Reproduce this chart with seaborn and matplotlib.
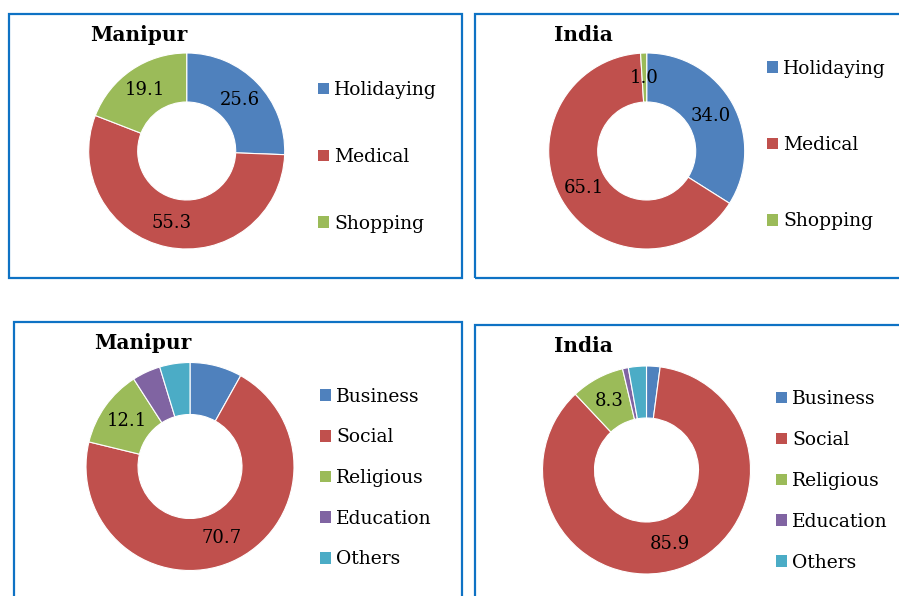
import numpy as np
import matplotlib
matplotlib.use("Agg")
import matplotlib.pyplot as plt
from matplotlib.patches import Rectangle
import seaborn as sns

# ---- data ----
purpose_labels = ["Holidaying", "Medical", "Shopping"]
manipur_purpose = [25.6, 55.3, 19.1]
india_purpose = [34.0, 65.1, 1.0]

visit_labels = ["Business", "Social", "Religious", "Education", "Others"]
manipur_visit = [8.1, 70.7, 12.1, 4.4, 4.7]
india_visit = [2.1, 85.9, 8.3, 0.9, 2.8]

# which slice values are annotated
manipur_purpose_show = [True, True, True]
india_purpose_show = [True, True, True]
manipur_visit_show = [False, True, True, False, False]
india_visit_show = [False, True, True, False, False]

titles = ["Manipur", "India", "Manipur", "India"]

sns.set_theme(style="white")
palette = sns.color_palette(["#4F81BD", "#C0504D", "#9BBB59", "#8064A2", "#4BACC6"])
plt.rcParams["font.family"] = ["DejaVu Serif"]
plt.rcParams["text.color"] = "black"

W, H = 899, 596
fig = plt.figure(figsize=(W / 100, H / 100), dpi=100)
fig.patch.set_facecolor("white")

def fx(px):
    return px / W

def fy(py):
    return 1 - py / H

# boxes (pixel coords: left, top, right, bottom)
boxes = [(9, 14, 462, 278), (475, 14, 905, 278), (14, 322, 462, 605), (475, 325, 905, 605)]
for (l, t, r, b) in boxes:
    fig.patches.append(Rectangle((fx(l), fy(b)), fx(r) - fx(l), fy(t) - fy(b),
                                 transform=fig.transFigure, fill=False,
                                 edgecolor="#0E72C4", linewidth=1.6, zorder=0))

FS = 13.5
panels = [
    dict(vals=manipur_purpose, labels=purpose_labels, show=manipur_purpose_show,
         c=(186.7, 151), r=98, inner=0.5, title_xy=(139, 35),
         leg_xy=(318, 157), spacing=2.61),
    dict(vals=india_purpose, labels=purpose_labels, show=india_purpose_show,
         c=(646.7, 151), r=98, inner=0.5, title_xy=(583, 35),
         leg_xy=(767, 145), spacing=3.11),
    dict(vals=manipur_visit, labels=visit_labels, show=manipur_visit_show,
         c=(190, 466.5), r=104, inner=0.5, title_xy=(143, 343),
         leg_xy=(320, 478), spacing=1.21),
    dict(vals=india_visit, labels=visit_labels, show=india_visit_show,
         c=(646.5, 470), r=104, inner=0.5, title_xy=(583, 346),
         leg_xy=(776, 481), spacing=1.22),
]

for p, title in zip(panels, titles):
    cx, cy = p["c"]
    r = p["r"]
    ax = fig.add_axes([fx(cx - r), fy(cy + r), 2 * r / W, 2 * r / H])
    wedges, _ = ax.pie(p["vals"], colors=palette[:len(p["vals"])], startangle=90,
                       counterclock=False, radius=1.0,
                       wedgeprops=dict(width=1 - p["inner"], edgecolor="white", linewidth=0.8))
    ax.set_xlim(-1, 1)
    ax.set_ylim(-1, 1)
    ax.set_axis_off()
    rmid = (1 + p["inner"]) / 2
    for w, v, s in zip(wedges, p["vals"], p["show"]):
        if not s:
            continue
        ang = np.deg2rad((w.theta1 + w.theta2) / 2)
        ax.text(rmid * np.cos(ang), rmid * np.sin(ang), f"{v:.1f}",
                ha="center", va="center", fontsize=13, color="black")
    fig.text(fx(p["title_xy"][0]), fy(p["title_xy"][1]), title, ha="center", va="center",
             fontsize=14.5, fontweight="bold", color="black")
    leg = fig.legend(wedges, p["labels"], loc="center left",
                     bbox_to_anchor=(fx(p["leg_xy"][0]), fy(p["leg_xy"][1])),
                     bbox_transform=fig.transFigure, frameon=False,
                     fontsize=FS, handlelength=0.58, handleheight=0.58,
                     handletextpad=0.28, labelspacing=p["spacing"],
                     borderpad=0, borderaxespad=0, labelcolor="black")
    for h in leg.legend_handles:
        h.set_edgecolor("none")

fig.savefig("out.png", dpi=100, facecolor="white")
